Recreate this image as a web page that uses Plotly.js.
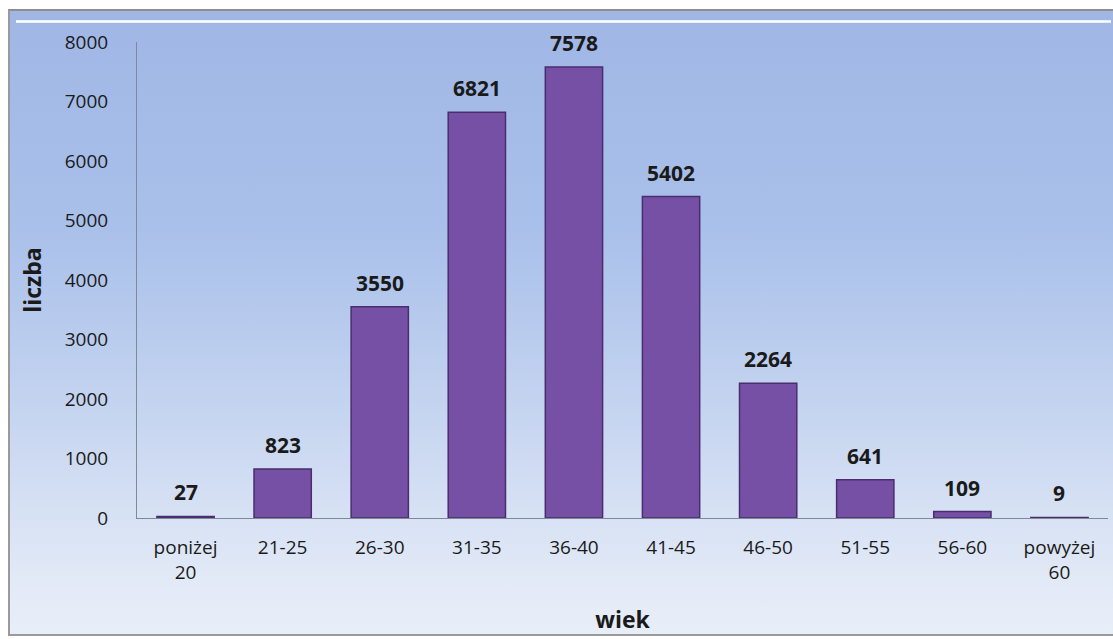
<!DOCTYPE html>
<html>
<head>
<meta charset="utf-8">
<script src="https://cdn.plot.ly/plotly-3.0.1.min.js"></script>
<style>
  html, body { margin: 0; padding: 0; background: #ffffff; }
  #wrap { position: relative; width: 1113px; height: 639px; overflow: hidden; background: #ffffff; }
  #frame { position: absolute; left: 8px; top: 9px; width: 1103px; height: 623px;
    border-top: 2px solid #8e8e8e; border-left: 2px solid #9a9a9a; border-bottom: 2px solid #9a9a9a;
    background: linear-gradient(to bottom, #a0b7e6 0%, #a9c0ea 35%, #c6d5f0 65%, #e3eaf7 92%, #e8eef8 100%); }
  #hl { position: absolute; left: 16px; top: 20px; width: 1095px; height: 3px;
    background: linear-gradient(to bottom, #dbe8fb, #ffffff, #dbe8fb); }
  #chart { position: absolute; left: 0; top: 0; width: 1113px; height: 639px; }
</style>
</head>
<body>
<div id="wrap">
  <div id="frame"></div>
  <div id="hl"></div>
  <div id="chart"></div>
</div>
<script>
const categories = ["poniżej<br>20", "21-25", "26-30", "31-35", "36-40", "41-45", "46-50", "51-55", "56-60", "powyżej<br>60"];
const counts = [27, 823, 3550, 6821, 7578, 5402, 2264, 641, 109, 9];
const yTicks = [0, 1000, 2000, 3000, 4000, 5000, 6000, 7000, 8000];

const fontFam = "'Open Sans', 'Noto Sans', sans-serif";

const trace = {
  type: 'bar',
  x: categories,
  y: counts,
  marker: { color: '#7650a5', line: { color: '#4a2d6e', width: 1.5 } },
  hoverinfo: 'x+y'
};

const annotations = categories.map((c, i) => ({
  x: c, y: counts[i], text: '<b>' + counts[i] + '</b>',
  showarrow: false, yanchor: 'bottom', yshift: 8,
  font: { family: fontFam, size: 21, color: '#1a1a1a' }
}));

const layout = {
  width: 1113, height: 639,
  margin: { l: 137, r: 5, t: 42, b: 121 },
  paper_bgcolor: 'rgba(0,0,0,0)',
  plot_bgcolor: 'rgba(0,0,0,0)',
  showlegend: false,
  bargap: 0.41,
  font: { family: fontFam, size: 19, color: '#1a1a1a' },
  xaxis: {
    type: 'category',
    showline: true, linecolor: '#7f8a99', linewidth: 1,
    ticks: '', showgrid: false, zeroline: false,
    ticklabelstandoff: 12,
    tickfont: { family: fontFam, size: 19, color: '#1a1a1a' },
    title: { text: '<b>wiek</b>', font: { family: fontFam, size: 23, color: '#1a1a1a' }, standoff: 28 }
  },
  yaxis: {
    range: [0, 8000],
    tickvals: yTicks,
    showline: true, linecolor: '#7f8a99', linewidth: 1,
    ticks: '', showgrid: false, zeroline: false,
    ticklabelstandoff: 24,
    tickfont: { family: fontFam, size: 19, color: '#1a1a1a' },
    title: { text: '<b>liczba</b>', font: { family: fontFam, size: 23, color: '#1a1a1a' }, standoff: 16 }
  },
  annotations: annotations
};

Plotly.newPlot('chart', [trace], layout, { displayModeBar: false, staticPlot: true });
</script>
</body>
</html>
